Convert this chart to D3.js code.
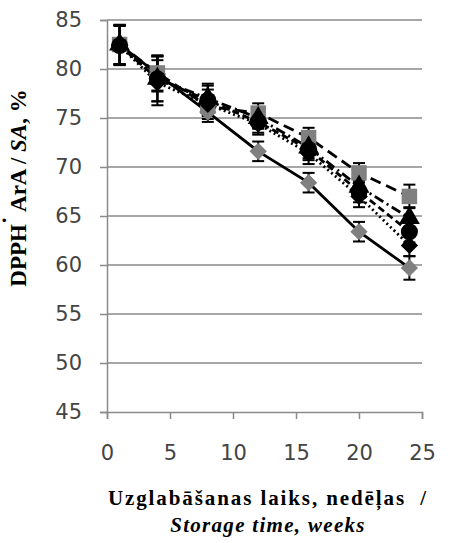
<!DOCTYPE html>
<html><head><meta charset="utf-8">
<script src="https://cdn.jsdelivr.net/npm/d3@7"></script>
<style>body{margin:0;background:#fff}svg{display:block}</style>
</head><body><svg id="c" width="452" height="543"></svg>
<script>
const weeks = [1, 4, 8, 12, 16, 20, 24];
const grayDiamond = [82.5, 79.5, 75.6, 71.6, 68.4, 63.4, 59.7];
const graySquare = [82.5, 79.6, 76.2, 75.5, 73.0, 69.4, 67.0];
const blackDiamond = [82.4, 78.6, 76.4, 74.4, 71.4, 67.0, 62.0];
const blackTriangle = [82.5, 79.0, 77.0, 75.0, 72.0, 68.0, 64.8];
const blackCircle = [82.4, 79.0, 76.8, 74.6, 71.8, 67.5, 63.4];
const errorsGray = [2.0, 1.8, 1.0, 1.0, 1.0, 1.0, 1.2];
const errorsBlack = [2.0, 2.3, 1.5, 1.1, 1.1, 1.1, 1.1];
const yTicks = [45, 50, 55, 60, 65, 70, 75, 80, 85];
const xTicks = [0, 5, 10, 15, 20, 25];

const diamondSq = {draw(ctx, size) {
  const r = Math.sqrt(size / 2);
  ctx.moveTo(0, -r); ctx.lineTo(r, 0); ctx.lineTo(0, r); ctx.lineTo(-r, 0); ctx.closePath();
}};

const series = [
  {values: grayDiamond, err: errorsGray, shape: diamondSq, fill: "#808080", dash: null, size: 150},
  {values: graySquare, err: errorsGray, shape: d3.symbolSquare, fill: "#808080", dash: "11,6", size: 240},
  {values: blackDiamond, err: errorsBlack, shape: diamondSq, fill: "#000", dash: "2,3", size: 150},
  {values: blackTriangle, err: errorsBlack, shape: d3.symbolTriangle, fill: "#000", dash: "10,4,2,4", size: 190},
  {values: blackCircle, err: errorsBlack, shape: d3.symbolCircle, fill: "#000", dash: "7,4", size: 230}
];

const svg = d3.select("#c");
const x = d3.scaleLinear().domain([0, 25]).range([107, 422]);
const y = d3.scaleLinear().domain([45, 85]).range([412, 20]);

// gridlines
svg.append("g").selectAll("line").data(yTicks.filter(d => d > 45)).join("line")
  .attr("x1", x(0)).attr("x2", x(25)).attr("y1", d => y(d)).attr("y2", d => y(d))
  .attr("stroke", "#8a8a8a").attr("stroke-width", 1.5);

const yAxis = svg.append("g").attr("transform", `translate(${x(0)},0)`)
  .call(d3.axisLeft(y).tickValues(yTicks).tickSize(7).tickPadding(18));
const xAxis = svg.append("g").attr("transform", `translate(0,${y(45)})`)
  .call(d3.axisBottom(x).tickValues(xTicks).tickSize(7).tickPadding(26));
[yAxis, xAxis].forEach(g => {
  g.select(".domain").attr("stroke", "#8a8a8a").attr("stroke-width", 1.5);
  g.selectAll(".tick line").attr("stroke", "#8a8a8a").attr("stroke-width", 1.5);
  g.selectAll("text").attr("font-family", "DejaVu Sans").attr("font-size", 21).attr("fill", "#444");
});

// lines
const line = d3.line().x((d, i) => x(weeks[i])).y(d => y(d));
series.forEach(s => {
  svg.append("path").attr("d", line(s.values)).attr("fill", "none")
    .attr("stroke", "#000").attr("stroke-width", 2.8)
    .attr("stroke-dasharray", s.dash);
});

// error bars
series.forEach(s => {
  const g = svg.append("g").attr("stroke", "#000").attr("stroke-width", 2);
  s.values.forEach((v, i) => {
    const cx = x(weeks[i]), e = s.err[i];
    g.append("line").attr("x1", cx).attr("x2", cx).attr("y1", y(v + e)).attr("y2", y(v - e));
    [v + e, v - e].forEach(t => g.append("line").attr("x1", cx - 6).attr("x2", cx + 6).attr("y1", y(t)).attr("y2", y(t)));
  });
});

// markers
series.forEach(s => {
  svg.append("g").selectAll("path").data(s.values).join("path")
    .attr("transform", (d, i) => `translate(${x(weeks[i])},${y(d)})`)
    .attr("d", d3.symbol().type(s.shape).size(s.size))
    .attr("fill", s.fill);
});

// axis titles
svg.append("text").attr("x", 268).attr("y", 505).attr("text-anchor", "middle")
  .attr("font-family", "Liberation Serif").attr("font-weight", "bold").attr("font-size", 21)
  .attr("letter-spacing", 1.9).attr("xml:space", "preserve")
  .text("Uzglabāšanas laiks, nedēļas  /");
svg.append("text").attr("x", 268).attr("y", 532).attr("text-anchor", "middle")
  .attr("font-family", "Liberation Serif").attr("font-weight", "bold").attr("font-style", "italic")
  .attr("font-size", 21).attr("letter-spacing", 1.3).text("Storage time, weeks");

const yt = svg.append("text").attr("transform", "translate(26,188) rotate(-90)").attr("text-anchor", "middle")
  .attr("font-family", "Liberation Serif").attr("font-weight", "bold").attr("font-size", 23);
yt.append("tspan").text("DPPH");
yt.append("tspan").attr("dy", -7).text("˙");
yt.append("tspan").attr("dy", 7).text(" ArA / ");
yt.append("tspan").attr("font-style", "italic").text("SA");
yt.append("tspan").text(", %");
</script></body></html>
